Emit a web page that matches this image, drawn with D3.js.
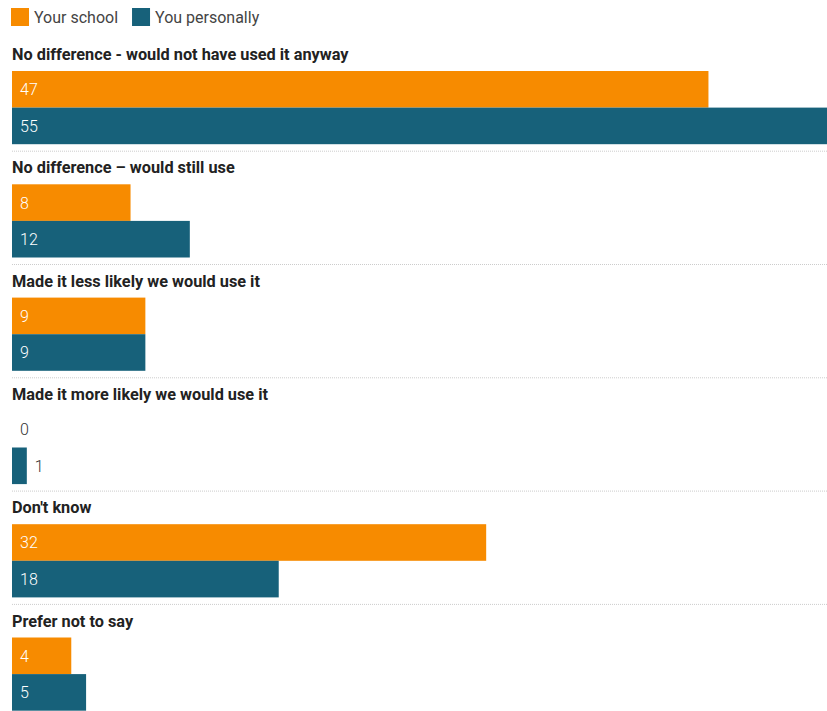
<!DOCTYPE html>
<html>
<head>
<meta charset="utf-8">
<script src="https://cdn.jsdelivr.net/npm/d3@7/dist/d3.min.js"></script>
<style>
  html, body { margin: 0; padding: 0; background: #fff; }
  svg { display: block; font-family: Roboto, "Noto Sans", sans-serif; }
</style>
</head>
<body>
<div id="chart"></div>
<script>
const categories = [
  'No difference - would not have used it anyway',
  'No difference \u2013 would still use',
  'Made it less likely we would use it',
  'Made it more likely we would use it',
  "Don't know",
  'Prefer not to say'
];
const seriesNames = ['Your school', 'You personally'];
const yourSchool = [47, 8, 9, 0, 32, 4];
const youPersonally = [55, 12, 9, 1, 18, 5];
const colors = ['#f78b00', '#17617a'];

const chartW = 827, chartH = 711;
const marginLeft = 12, marginTop = 45;
const groupH = 113.3, labelH = 26, barH = 36.6;

const rows = categories.map((c, i) => ({
  name: c,
  values: [yourSchool[i], youPersonally[i]]
}));

const svg = d3.select('#chart').append('svg')
  .attr('width', chartW).attr('height', chartH);

// legend
const legend = svg.append('g').attr('class', 'legend');
let lx = 11;
seriesNames.forEach((s, i) => {
  const g = legend.append('g').attr('transform', `translate(${lx},8)`);
  g.append('rect').attr('width', 18).attr('height', 18).attr('fill', colors[i]);
  const t = g.append('text').attr('x', 23).attr('y', 14.5)
    .attr('font-size', 16).attr('fill', '#444').text(s);
  lx += 23 + t.node().getComputedTextLength() + 14;
});

const x = d3.scaleLinear().domain([0, 55]).range([marginLeft, chartW]);
const y = d3.scaleBand().domain(categories).range([marginTop, marginTop + groupH * categories.length]);
const yInner = d3.scaleBand().domain(seriesNames).range([0, barH * 2]);

const group = svg.selectAll('.group').data(rows).enter().append('g')
  .attr('class', 'group')
  .attr('transform', d => `translate(0,${y(d.name)})`);

group.append('text')
  .attr('x', marginLeft).attr('y', 15)
  .attr('font-size', 16.3).attr('font-weight', 'bold').attr('fill', '#222')
  .text(d => d.name);

const bars = group.append('g').attr('transform', `translate(0,${labelH})`);

bars.selectAll('rect').data(d => d.values.map((v, i) => ({ v, s: seriesNames[i], i })))
  .enter().append('rect')
  .attr('x', x(0))
  .attr('y', d => yInner(d.s))
  .attr('width', d => x(d.v) - x(0))
  .attr('height', yInner.bandwidth())
  .attr('fill', d => colors[d.i]);

// value labels: inside the bar if it fits, else just past its end
bars.selectAll('text').data(d => d.values.map((v, i) => ({ v, s: seriesNames[i], i })))
  .enter().append('text')
  .attr('x', d => (x(d.v) - x(0) > 30 || d.v === 0) ? x(0) + 8 : x(d.v) + 8)
  .attr('y', d => yInner(d.s) + yInner.bandwidth() / 2 + 6)
  .attr('font-size', 16).attr('font-weight', 300)
  .attr('fill', d => (x(d.v) - x(0) > 30) ? '#fff' : '#333')
  .text(d => d.v);

// dotted separators between groups
group.filter((d, i) => i < rows.length - 1).append('line')
  .attr('x1', marginLeft).attr('x2', chartW)
  .attr('y1', labelH + barH * 2 + 7).attr('y2', labelH + barH * 2 + 7)
  .attr('stroke', '#ccc').attr('stroke-width', 1).attr('stroke-dasharray', '1,1');
</script>
</body>
</html>
